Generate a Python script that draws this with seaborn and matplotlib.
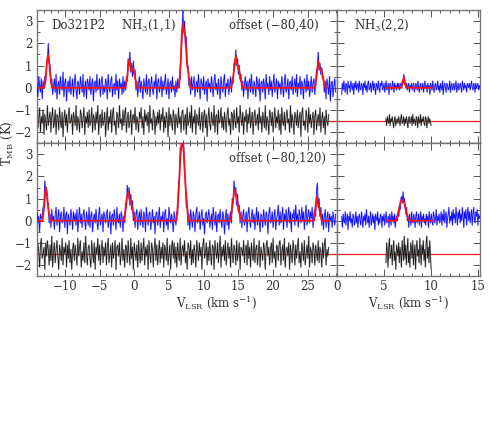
import numpy as np
import matplotlib
matplotlib.use("Agg")
import matplotlib.pyplot as plt
import seaborn as sns
from matplotlib.ticker import MultipleLocator

sns.set_style("ticks")
plt.rcParams['font.family'] = ['DejaVu Serif']
plt.rcParams['mathtext.fontset'] = 'dejavuserif'

# ---- NH3(1,1) spectra, channels -14 .. 29 km/s ----
tl_blue = [0.2, -0.4, 0.5, 0.1, -0.2, 0.4, -0.5, 0.3, 0.0, 0.5, 0.2, 1.1, 1.2, 2.0, 1.1, 1.0, 0.2, 0.4, -0.3, 0.1,
           0.4, -0.2, 0.6, -0.5, 0.1, 0.3, -0.3, 0.5, 0.0, -0.1, 0.7, -0.4, 0.2, 0.4, -0.6, 0.1, 0.3, -0.2, 0.5, -0.3,
           0.0, 0.4, -0.4, 0.2, 0.6, -0.1, -0.5, 0.3, 0.2, -0.3, 0.5, 0.1, -0.2, 0.6, -0.4, 0.0, 0.3, -0.5, 0.4, 0.2,
           -0.1, 0.5, -0.3, 0.1, 0.4, -0.6, 0.2, 0.3, -0.2, 0.6, -0.1, 0.0, 0.4, -0.4, 0.3, 0.5, -0.3, 0.1, -0.2, 0.4,
           0.2, -0.5, 0.6, 0.0, -0.2, 0.3, 0.5, -0.4, 0.1, 0.2, -0.3, 0.6, -0.1, 0.3, -0.5, 0.4, 0.0, 0.2, -0.3, 0.5,
           -0.2, 0.3, -0.1, 0.5, 0.3, 1.3, 1.0, 1.6, 0.7, 1.1, 0.5, 1.2, 0.6, 0.8, -0.1, 0.3, -0.4, 0.2, 0.5, -0.2,
           0.3, 0.0, -0.5, 0.4, 0.1, -0.2, 0.6, -0.3, 0.2, 0.4, -0.4, 0.1, 0.5, -0.1, -0.3, 0.3, 0.0, 0.6, -0.5, 0.2,
           0.4, -0.2, 0.1, 0.5, -0.4, 0.3, -0.1, 0.2, 0.6, -0.3, 0.0, 0.4, -0.5, 0.2, 0.3, -0.2, 0.5, -0.1, 0.1, -0.4,
           0.3, -0.2, 0.4, 0.0, 0.3, 0.4, 1.6, 2.2, 3.5, 2.5, 3.0, 2.0, 2.3, 1.0, 1.0, 0.1, 0.4, -0.3, 0.5, -0.1,
           0.2, 0.5, -0.4, 0.1, 0.3, -0.2, 0.6, 0.0, -0.5, 0.4, 0.2, -0.1, 0.5, -0.3, 0.1, 0.3, -0.6, 0.4, 0.0, 0.2,
           -0.2, 0.5, 0.1, -0.4, 0.3, 0.6, -0.1, 0.2, -0.3, 0.4, 0.0, -0.5, 0.5, 0.1, -0.2, 0.3, 0.6, -0.4, 0.2, 0.0,
           0.4, -0.3, 0.1, 0.5, -0.2, 0.4, 0.2, 1.1, 1.0, 1.7, 1.0, 1.3, 0.6, 1.0, 0.4, 0.6, -0.1, 0.3, -0.4, 0.2,
           0.5, -0.1, 0.3, -0.5, 0.2, 0.4, -0.2, 0.6, 0.0, -0.3, 0.3, 0.1, -0.4, 0.5, 0.2, -0.1, 0.4, -0.6, 0.2, 0.3,
           -0.2, 0.4, 0.1, -0.5, 0.6, 0.0, 0.2, -0.3, 0.5, -0.1, 0.3, -0.4, 0.2, 0.6, -0.2, 0.1, 0.4, -0.5, 0.3, 0.0,
           0.2, -0.3, 0.5, 0.1, -0.4, 0.3, 0.6, -0.2, 0.0, 0.4, -0.5, 0.2, 0.3, -0.1, 0.5, -0.3, 0.1, 0.4, -0.2, 0.6,
           -0.4, 0.2, 0.0, 0.5, -0.3, 0.3, 0.1, -0.5, 0.4, 0.2, -0.2, 0.6, -0.1, 0.3, -0.4, 0.0, 0.5, -0.2, 0.2, 0.4,
           -0.3, 0.2, 0.8, 0.9, 1.6, 0.8, 1.1, 0.6, 0.9, 0.4, 0.5, -0.2, 0.3, -0.5, 0.4, 0.1, -0.3, 0.5, -0.6, 0.2,
           0.3, -0.4, 0.1, 0.4, -0.2]

bl_blue = [0.4, -0.1, 0.2, -0.5, 0.3, 0.1, 0.2, 0.6, 0.7, 1.8, 1.3, 1.4, 0.8, 0.8, -0.1, 0.3, -0.3, 0.5, 0.0, 0.2,
           -0.4, 0.3, 0.6, -0.2, 0.1, 0.5, -0.5, 0.2, 0.4, -0.1, 0.0, 0.6, -0.3, 0.2, 0.4, -0.6, 0.3, 0.1, -0.2, 0.5,
           0.2, -0.4, 0.4, 0.0, 0.3, -0.2, 0.5, -0.5, 0.1, 0.6, -0.1, 0.3, -0.3, 0.2, 0.5, 0.0, -0.4, 0.4, 0.1, -0.2,
           0.6, -0.3, 0.2, 0.4, -0.5, 0.1, 0.3, -0.1, 0.5, 0.0, -0.4, 0.2, 0.6, -0.2, 0.1, 0.3, -0.5, 0.4, 0.2, -0.1,
           0.3, 0.5, -0.3, 0.0, 0.4, -0.6, 0.2, 0.3, -0.2, 0.5, 0.1, -0.4, 0.6, 0.0, -0.1, 0.3, -0.3, 0.4, 0.2, -0.5,
           0.2, -0.1, 0.8, 0.6, 1.6, 1.1, 1.5, 0.7, 1.2, 0.5, 0.9, 0.0, 0.4, -0.3, 0.3, 0.5, -0.4, 0.1, 0.4, -0.2,
           0.5, 0.0, -0.3, 0.4, 0.2, -0.5, 0.6, 0.1, -0.2, 0.3, 0.4, -0.4, 0.0, 0.5, -0.1, 0.2, -0.6, 0.3, 0.4, -0.2,
           0.1, 0.6, -0.3, 0.2, 0.0, 0.4, -0.5, 0.3, 0.5, -0.2, 0.1, -0.4, 0.6, 0.2, -0.1, 0.3, 0.0, -0.5, 0.4, 0.1,
           -0.2, 0.4, 0.3, 1.7, 1.9, 3.3, 3.2, 4.0, 3.4, 3.5, 2.1, 1.9, 0.6, 0.7, -0.2, 0.3, -0.4, 0.5, 0.1, -0.3,
           0.4, 0.2, -0.5, 0.3, 0.6, -0.1, 0.0, 0.4, -0.4, 0.2, 0.5, -0.2, 0.1, -0.6, 0.3, 0.4, -0.1, 0.2, 0.5, -0.3,
           0.0, 0.3, -0.4, 0.6, 0.1, -0.2, 0.4, -0.5, 0.2, 0.3, -0.1, 0.5, 0.0, -0.3, 0.4, 0.2, -0.6, 0.1, 0.5, -0.2,
           0.3, -0.4, 0.2, 0.4, -0.1, 1.0, 0.8, 1.8, 1.2, 1.5, 0.7, 1.2, 0.4, 0.7, -0.1, 0.4, -0.3, 0.2, 0.5, -0.2,
           0.1, 0.4, -0.5, 0.3, 0.6, 0.0, -0.3, 0.2, 0.5, -0.1, 0.3, -0.4, 0.1, 0.6, -0.2, 0.4, 0.0, -0.5, 0.3, 0.2,
           -0.3, 0.5, 0.1, -0.2, 0.4, 0.2, -0.6, 0.3, 0.6, -0.1, 0.0, 0.4, -0.3, 0.2, 0.5, -0.4, 0.1, 0.3, 0.7, -0.2,
           0.4, -0.1, 0.2, 0.6, -0.4, 0.3, 0.0, 0.5, -0.3, 0.2, 0.6, -0.1, 0.4, -0.5, 0.3, 0.1, 0.5, -0.2, 0.7, 0.0,
           0.3, -0.3, 0.5, 0.2, -0.1, 0.6, 0.0, 0.4, -0.4, 0.3, 0.7, -0.2, 0.2, 0.5, -0.1, 0.4, 0.1, 0.6, -0.3, 0.3,
           0.5, 0.2, 1.3, 1.7, 0.6, 1.0, 0.2, 0.6, -0.2, 0.3, -0.4, 0.2, 0.5, -0.3, 0.1, 0.4, -0.5, 0.3, 0.0, 0.2,
           -0.3, 0.4, 0.1, -0.2, 0.3]

# residuals (data - fit), channels -14 .. 28 km/s
tl_resid = [0.4, -0.3, 0.1, 0.6, -0.5, 0.2, -0.1, 0.5, -0.6, 0.3, 0.0, -0.4, 0.7, -0.2, 0.1, 0.4, -0.5, 0.2, 0.6, -0.3,
            -0.1, 0.5, -0.6, 0.3, 0.2, -0.4, 0.6, 0.0, -0.3, 0.4, -0.7, 0.1, 0.5, -0.2, 0.3, -0.5, 0.2, 0.6, -0.1, 0.0,
            0.3, -0.6, 0.4, 0.1, -0.2, 0.7, -0.4, 0.2, 0.0, -0.5, 0.5, 0.3, -0.3, 0.1, 0.6, -0.6, 0.2, -0.1, 0.4, -0.3,
            0.5, -0.2, 0.0, 0.6, -0.5, 0.3, 0.1, -0.4, 0.4, -0.1, 0.7, -0.6, 0.2, 0.3, -0.3, 0.5, -0.2, 0.0, 0.4, -0.7,
            0.1, 0.6, -0.4, 0.2, -0.1, 0.5, -0.5, 0.3, 0.6, -0.2, 0.0, -0.6, 0.4, 0.2, -0.3, 0.7, -0.1, 0.1, -0.4, 0.5,
            -0.2, 0.3, 0.6, -0.5, 0.1, 0.4, -0.3, 0.0, 0.5, -0.6, 0.2, 0.3, -0.1, 0.6, -0.4, 0.2, 0.0, -0.5, 0.4, 0.1,
            0.6, -0.3, 0.2, -0.6, 0.5, 0.0, 0.3, -0.2, 0.4, -0.5, 0.7, -0.1, 0.1, -0.4, 0.5, 0.3, -0.6, 0.2, -0.2, 0.4,
            -0.1, 0.5, -0.4, 0.3, 0.0, 0.6, -0.5, 0.2, -0.3, 0.4, 0.1, -0.7, 0.6, -0.2, 0.3, 0.0, -0.4, 0.5, 0.2, -0.6,
            0.3, 0.0, -0.3, 0.6, -0.1, 0.2, -0.5, 0.4, 0.5, -0.4, 0.1, 0.3, -0.6, 0.6, -0.2, 0.0, 0.4, -0.3, 0.7, -0.5,
            0.2, -0.1, 0.5, -0.6, 0.3, 0.1, -0.2, 0.6, -0.4, 0.0, 0.4, -0.5, 0.2, 0.5, -0.3, 0.3, -0.7, 0.1, 0.6, -0.1,
            -0.4, 0.4, 0.0, -0.2, 0.7, -0.5, 0.2, 0.3, -0.6, 0.5, -0.1, 0.1, 0.6, -0.3, 0.2, -0.4, 0.4, 0.0, -0.5, 0.3,
            0.6, -0.2, 0.1, -0.6, 0.4, 0.3, -0.4, 0.5, 0.0, -0.3, 0.6, -0.1, 0.2, -0.5, 0.7, 0.1, -0.2, 0.4, -0.6, 0.2,
            0.0, 0.5, -0.5, 0.3, -0.1, 0.6, -0.3, 0.1, 0.4, -0.6, 0.2, 0.5, -0.2, 0.0, 0.3, -0.4, 0.6, -0.1, 0.2, -0.5,
            0.4, 0.1, -0.3, 0.7, -0.4, 0.2, 0.0, -0.6, 0.5, 0.3, -0.2, 0.4, -0.5, 0.1, 0.6, -0.3, 0.2, -0.1, 0.5, -0.4,
            0.3, -0.6, 0.6, 0.0, -0.2, 0.4, -0.4, 0.2, 0.5, -0.1, 0.1, -0.5, 0.7, -0.3, 0.3, 0.0, -0.6, 0.4, 0.2, -0.2,
            0.5, -0.3, 0.1, 0.4, -0.7, 0.3, 0.6, -0.2, 0.0, -0.4, 0.5, 0.2, -0.5, 0.6, -0.1, 0.3, -0.3, 0.1, 0.4, -0.6,
            0.2, 0.5, -0.4, 0.0, 0.3, -0.2, 0.6, -0.5, 0.1, 0.4, -0.3, 0.2, -0.6, 0.5, 0.0, -0.2, 0.3]

bl_resid = [-0.3, 0.5, 0.1, -0.6, 0.4, 0.7, -0.2, 0.0, 0.3, -0.7, 0.5, -0.1, 0.6, 0.2, -0.5, 0.4, -0.3, 0.8, -0.6, 0.1,
            0.5, -0.4, 0.2, 0.6, -0.1, -0.7, 0.4, 0.1, -0.3, 0.7, -0.5, 0.3, 0.0, 0.5, -0.6, 0.4, -0.2, 0.6, -0.4, 0.2,
            -0.7, 0.2, 0.5, -0.3, 0.4, 0.0, -0.5, 0.7, -0.1, 0.3, 0.6, -0.6, 0.1, -0.3, 0.5, -0.4, 0.8, 0.0, -0.5, 0.3,
            0.4, -0.2, -0.6, 0.6, 0.1, -0.4, 0.5, -0.7, 0.3, 0.0, 0.7, -0.3, 0.4, -0.5, 0.2, 0.6, -0.4, 0.3, -0.1, 0.5,
            -0.5, 0.3, 0.7, -0.4, 0.0, 0.4, -0.6, 0.5, -0.2, 0.1, 0.6, -0.7, 0.3, 0.4, -0.1, 0.5, -0.5, 0.0, 0.7, -0.3,
            0.2, -0.6, 0.4, 0.3, -0.4, 0.6, 0.0, -0.5, 0.7, -0.2, 0.3, -0.7, 0.5, 0.1, -0.3, 0.4, -0.6, 0.6, 0.0, -0.4,
            0.5, -0.3, 0.2, 0.7, -0.5, 0.3, -0.1, 0.4, -0.7, 0.6, 0.0, -0.4, 0.5, 0.2, -0.6, 0.3, 0.7, -0.3, 0.4, -0.5,
            0.1, 0.6, -0.4, 0.3, -0.2, 0.5, -0.6, 0.4, 0.2, -0.3, 0.7, -0.5, 0.0, 0.4, -0.7, 0.3, 0.6, -0.2, 0.5, -0.4,
            0.3, -0.6, 0.5, 0.0, -0.3, 0.7, -0.5, 0.2, 0.4, -0.1, 0.6, -0.4, 0.1, -0.7, 0.5, 0.3, -0.2, 0.6, -0.5, 0.2,
            -0.4, 0.4, 0.1, -0.6, 0.6, 0.2, -0.3, 0.5, -0.1, 0.3, -0.7, 0.4, 0.7, -0.2, 0.0, 0.5, -0.5, 0.3, -0.3, 0.6,
            0.0, -0.5, 0.4, 0.3, -0.7, 0.6, 0.1, -0.2, 0.5, -0.4, 0.2, 0.8, -0.6, 0.3, -0.1, 0.4, -0.3, 0.6, -0.5, 0.1,
            0.5, -0.2, 0.3, -0.6, 0.7, 0.0, -0.4, 0.4, 0.2, -0.5, 0.6, -0.3, 0.1, 0.5, -0.7, 0.3, 0.2, -0.1, 0.6, -0.4,
            0.2, 0.4, -0.5, 0.6, -0.2, 0.3, -0.6, 0.5, 0.0, -0.3, 0.7, -0.4, 0.2, 0.4, -0.5, 0.1, 0.6, -0.6, 0.3, 0.0,
            -0.3, 0.5, 0.2, -0.7, 0.4, 0.6, -0.1, 0.3, -0.5, 0.2, 0.5, -0.4, 0.7, -0.2, 0.1, -0.6, 0.4, 0.3, -0.3, 0.5,
            0.6, -0.5, 0.1, 0.4, -0.3, 0.7, -0.6, 0.2, 0.3, -0.1, 0.5, -0.7, 0.4, 0.0, -0.4, 0.6, 0.2, -0.5, 0.4, -0.2,
            0.3, 0.7, -0.4, 0.1, -0.6, 0.5, 0.2, -0.3, 0.6, -0.5, 0.0, 0.4, -0.2, 0.8, -0.6, 0.3, 0.1, -0.4, 0.5, 0.2,
            -0.5, 0.4, 0.0, -0.3, 0.6, -0.4, 0.3, 0.1, -0.6, 0.5, -0.2, 0.4, 0.7, -0.5, 0.2, -0.1, 0.3]

# hyperfine fits (red), vertices
tl_fit_v = [-14, -12.95, -12.7, -12.55, -12.4, -12.25, -12.1, -11.85,
            -1.25, -1.0, -0.85, -0.7, -0.55, -0.4, -0.1, 0.15, 0.45,
            6.45, 6.7, 6.85, 7.0, 7.15, 7.35, 7.6, 8.1,
            13.95, 14.3, 14.5, 14.65, 14.8, 15.1, 15.3, 15.65,
            26.05, 26.3, 26.5, 26.7, 27.0, 27.2, 27.55, 27.8]
tl_fit_t = [0, 0, 0.6, 1.2, 1.5, 1.2, 0.6, 0,
            0, 0.5, 1.0, 1.28, 1.0, 0.75, 0.85, 0.4, 0,
            0, 1.2, 2.4, 2.9, 2.6, 2.3, 1.1, 0,
            0, 0.6, 1.2, 1.4, 1.1, 0.8, 0.4, 0,
            0, 0.6, 1.2, 0.85, 0.75, 0.4, 0, 0]

bl_fit_v = [-14, -13.2, -12.95, -12.8, -12.7, -12.55, -12.4, -12.1,
            -1.45, -1.2, -1.05, -0.9, -0.7, -0.45, -0.2, 0.1,
            6.1, 6.4, 6.65, 6.9, 7.15, 7.4, 7.8,
            13.85, 14.15, 14.35, 14.45, 14.6, 14.85, 15.05, 15.45,
            25.9, 26.1, 26.3, 26.45, 26.6, 26.8, 27.0, 28.0]
bl_fit_t = [0, 0, 0.7, 1.3, 1.5, 1.2, 0.6, 0,
            0, 0.6, 1.05, 1.3, 1.0, 0.85, 0.45, 0,
            0, 1.3, 2.9, 3.8, 3.0, 1.5, 0,
            0, 0.7, 1.25, 1.4, 1.2, 0.85, 0.45, 0,
            0, 0.6, 1.1, 0.8, 0.6, 0.3, 0, 0]

# ---- NH3(2,2): channels 0.5 .. 15.2 km/s, residual 5.2 .. 10.0 ----
tr_blue = [-0.3, 0.2, -0.1, 0.3, 0.0, -0.2, 0.2, 0.1, -0.3, 0.3, 0.0, 0.1, -0.2, 0.3, 0.1, -0.1, 0.2, -0.3, 0.2, 0.0,
           0.3, -0.1, 0.1, 0.2, -0.2, 0.3, 0.0, -0.1, 0.2, 0.1, -0.3, 0.2, 0.0, 0.3, -0.1, 0.1, -0.2, 0.2, 0.3, -0.1,
           0.0, 0.2, -0.2, 0.1, 0.3, -0.1, 0.2, 0.0, -0.3, 0.2, 0.1, -0.1, 0.3, 0.0, -0.2, 0.2, 0.1, 0.3, -0.1, 0.0,
           0.2, -0.2, 0.1, 0.3, -0.1, 0.0, 0.2, -0.3, 0.1, 0.2, 0.0, -0.1, 0.3, 0.1, -0.2, 0.2, 0.0, 0.1, -0.1, 0.2,
           0.0, 0.2, -0.1, 0.1, 0.2, 0.0, 0.3, 0.2, 0.6, 0.4, 0.2, 0.0, 0.2, -0.1, 0.1, 0.2, -0.2, 0.1, 0.0, 0.2,
           -0.1, 0.1, 0.2, -0.2, 0.0, 0.2, 0.1, -0.1, 0.3, 0.0, -0.2, 0.1, 0.2, -0.1, 0.0, 0.2, -0.2, 0.1, 0.3, 0.0,
           0.1, -0.2, 0.2, 0.0, 0.1, -0.3, 0.2, 0.1, -0.1, 0.3, 0.0, -0.2, 0.1, 0.2, -0.1, 0.0, 0.3, -0.1, 0.1, -0.2,
           0.2, 0.0, -0.1, 0.3, -0.3, 0.1, 0.2, 0.0, -0.2, 0.2, 0.1, -0.1, 0.0, 0.3, -0.2, 0.1, 0.2, -0.1, 0.0, 0.2,
           -0.1, 0.1, 0.3, -0.2, 0.0, 0.2, -0.1, 0.1, 0.2, 0.0, -0.2, 0.3, 0.1, -0.1, 0.2, 0.0, 0.1, -0.2, 0.2, 0.1,
           0.0, 0.2, -0.1, 0.1, 0.3, 0.0, -0.1, 0.2, 0.1, -0.2, 0.2, 0.0, 0.1, 0.2, -0.1, 0.1, 0.0]
br_blue = [0.2, -0.3, 0.3, 0.0, -0.1, 0.4, -0.2, 0.1, 0.3, -0.4, 0.2, 0.0, 0.4, -0.1, 0.1, -0.3, 0.3, 0.2, -0.2, 0.0,
           0.4, -0.1, 0.2, -0.3, 0.1, 0.3, 0.0, -0.2, 0.4, 0.1, -0.3, 0.2, 0.0, 0.3, -0.2, 0.5, 0.1, -0.1, 0.2, -0.3,
           0.1, 0.4, -0.2, 0.0, 0.3, -0.1, 0.2, -0.4, 0.3, 0.1, 0.0, 0.4, -0.2, 0.1, -0.1, 0.3, 0.2, -0.3, 0.2, 0.0,
           0.3, -0.2, 0.1, 0.4, -0.1, 0.0, 0.2, -0.3, 0.3, 0.1, -0.2, 0.4, 0.0, 0.2, -0.1, 0.3, -0.3, 0.1, 0.2, 0.0,
           0.4, 0.2, 0.7, 0.5, 1.0, 1.1, 0.8, 1.3, 0.9, 1.0, 0.6, 0.3, 0.6, 0.0, 0.2, -0.3, 0.3, 0.1, -0.2, 0.4,
           0.0, -0.1, 0.3, 0.1, -0.3, 0.2, 0.4, -0.1, 0.0, 0.3, -0.2, 0.1, 0.4, -0.3, 0.2, 0.0, 0.3, -0.1, 0.1, -0.2,
           0.3, 0.0, 0.2, -0.3, 0.4, 0.1, -0.1, 0.3, 0.0, -0.2, 0.4, 0.2, -0.1, 0.1, 0.5, -0.2, 0.2, 0.0, 0.3, -0.1,
           0.1, 0.4, -0.2, 0.3, 0.0, 0.5, -0.1, 0.2, 0.4, -0.3, 0.1, 0.3, 0.6, -0.1, 0.2, 0.0, 0.4, -0.2, 0.5, 0.1,
           0.3, -0.1, 0.6, 0.2, -0.2, 0.4, 0.1, 0.5, -0.1, 0.3, 0.0, 0.6, 0.2, -0.3, 0.4, 0.1, 0.5, -0.2, 0.3, 0.6,
           0.0, 0.4, -0.1, 0.2, 0.5, -0.2, 0.3, 0.6, 0.1, -0.1, 0.4, 0.2, 0.5, -0.2, 0.3, 0.1, 0.2]
tr_resid = [0.1, -0.2, 0.2, 0.0, -0.1, 0.3, -0.2, 0.1, 0.0, 0.2, -0.1, -0.3, 0.1, 0.2, -0.2, 0.0, 0.1, -0.1, 0.2, 0.0,
            -0.2, 0.1, 0.3, -0.1, 0.0, 0.2, -0.2, 0.1, -0.1, 0.2, 0.0, -0.3, 0.1, 0.2, -0.1, 0.0, 0.2, -0.2, 0.3, -0.1,
            0.1, 0.0, -0.2, 0.2, 0.1, -0.3, 0.2, 0.0, -0.1, 0.3, -0.2, 0.1, 0.0, 0.2, -0.1, -0.2, 0.2, 0.1, -0.3, 0.0,
            0.2, -0.1, 0.1, 0.0, -0.2]
br_resid = [-0.4, 0.5, 0.1, -0.6, 0.3, 0.7, -0.2, 0.0, 0.4, -0.5, 0.2, 0.6, -0.3, 0.1, -0.7, 0.4, 0.2, -0.1, 0.5, -0.4,
            0.3, 0.0, -0.6, 0.6, 0.1, -0.3, 0.8, -0.2, 0.4, -0.5, 0.2, 0.7, -0.4, 0.1, -0.6, 0.5, 0.3, -0.2, 0.6, -0.5,
            0.0, 0.4, -0.7, 0.3, 0.6, -0.1, 0.2, -0.4, 0.7, 0.1, -0.5, 0.4, 0.0, 0.6, -0.3, 0.2, -0.6, 0.5, 0.8, -0.2,
            0.3, -0.4, 0.6, 0.1, -0.7]

tr_fit_v = [5.2, 6.85, 7.0, 7.1, 7.25, 7.4, 10.1]
tr_fit_t = [0, 0, 0.3, 0.45, 0.15, 0, 0]
br_fit_v = [5.3, 6.3, 6.55, 6.75, 6.95, 7.15, 7.35, 7.6, 7.8, 10.2]
br_fit_t = [0, 0, 0.45, 0.85, 0.95, 0.8, 0.4, 0.05, 0, 0]

RESID_BASE = -1.5
TXT = '#333333'

fig = plt.figure(figsize=(4.91, 4.36), dpi=100)
L, M, R = 37 / 491, 337 / 491, 480 / 491
T, MID, B = 1 - 10 / 436, 1 - 143.3 / 436, 1 - 276 / 436

ax_tl = fig.add_axes([L, MID, M - L, T - MID])
ax_tr = fig.add_axes([M, MID, R - M, T - MID])
ax_bl = fig.add_axes([L, B, M - L, MID - B])
ax_br = fig.add_axes([M, B, R - M, MID - B])


def noisy(ax, x, y, dark, light, z, lw=0.55):
    # soft halo underneath, then the thin trace on top
    sns.lineplot(x=x, y=y, ax=ax, color=light, lw=lw * 2.1, alpha=0.55,
                 estimator=None, sort=False, zorder=z)
    sns.lineplot(x=x, y=y, ax=ax, color=dark, lw=lw, alpha=0.95,
                 estimator=None, sort=False, zorder=z + 0.1)


def draw_panel(ax, v, blue, rv, resid, fv, ft, xlim):
    ax.axhline(RESID_BASE, color='#e02020', lw=0.9, zorder=1)
    noisy(ax, rv, np.array(resid) + RESID_BASE, '#111111', '#9a9a9a', 2)
    noisy(ax, v, blue, '#0000ff', '#8c8cff', 3)
    sns.lineplot(x=fv, y=ft, ax=ax, color='#ff1010', lw=1.3,
                 estimator=None, sort=False, zorder=4)
    ax.set_xlim(*xlim)
    ax.set_ylim(-2.5, 3.5)
    ax.set_xlabel('')
    ax.set_ylabel('')
    ax.xaxis.set_major_locator(MultipleLocator(5))
    ax.xaxis.set_minor_locator(MultipleLocator(1))
    ax.yaxis.set_major_locator(MultipleLocator(1))
    ax.yaxis.set_minor_locator(MultipleLocator(0.5))
    ax.tick_params(which='both', direction='in', top=True, right=True,
                   labelsize=8.5, labelcolor=TXT, color='#555555', width=0.7)
    ax.tick_params(which='major', length=5)
    ax.tick_params(which='minor', length=2.5)
    for s in ax.spines.values():
        s.set_color('#777777')
        s.set_linewidth(1.0)


def chan(lo, hi, vals):
    return np.linspace(lo, hi, len(vals))


draw_panel(ax_tl, chan(-14, 29, tl_blue), tl_blue, chan(-14, 28, tl_resid), tl_resid,
           tl_fit_v, tl_fit_t, (-14, 29.2))
draw_panel(ax_bl, chan(-14, 29, bl_blue), bl_blue, chan(-14, 28, bl_resid), bl_resid,
           bl_fit_v, bl_fit_t, (-14, 29.2))
draw_panel(ax_tr, chan(0.5, 15.2, tr_blue), tr_blue, chan(5.2, 10.0, tr_resid), tr_resid,
           tr_fit_v, tr_fit_t, (0, 15.2))
draw_panel(ax_br, chan(0.5, 15.2, br_blue), br_blue, chan(5.2, 10.0, br_resid), br_resid,
           br_fit_v, br_fit_t, (0, 15.2))

for ax in (ax_tl, ax_tr):
    ax.tick_params(labelbottom=False)
    ax.spines['bottom'].set_color('#111111')
for ax in (ax_tr, ax_br):
    ax.tick_params(labelleft=False)
for ax in (ax_bl, ax_br):
    ax.tick_params(axis='x', pad=3)

ax_tl.text(0.049, 0.887, 'Do321P2', transform=ax_tl.transAxes, fontsize=8.5,
           color=TXT, va='center', ha='left')
ax_tl.text(0.279, 0.887, r'NH$_3$(1,1)', transform=ax_tl.transAxes, fontsize=8.5,
           color=TXT, va='center', ha='left')
ax_tl.text(0.94, 0.887, 'offset (\u221280,40)', transform=ax_tl.transAxes, fontsize=8.5,
           color=TXT, va='center', ha='right')
ax_bl.text(0.962, 0.887, 'offset (\u221280,120)', transform=ax_bl.transAxes, fontsize=8.5,
           color=TXT, va='center', ha='right')
ax_tr.text(0.119, 0.887, r'NH$_3$(2,2)', transform=ax_tr.transAxes, fontsize=8.5,
           color=TXT, va='center', ha='left')

fig.text(0.016, MID, r'T$_{\rm MB}$ (K)', rotation=90, va='center', ha='center',
         fontsize=8.5, color=TXT)
fig.text(217 / 491, 1 - 303 / 436, r'V$_{\rm LSR}$ (km s$^{-1}$)', va='center', ha='center',
         fontsize=8.5, color=TXT)
fig.text(409 / 491, 1 - 303 / 436, r'V$_{\rm LSR}$ (km s$^{-1}$)', va='center', ha='center',
         fontsize=8.5, color=TXT)

fig.savefig('out.png', dpi=100)
